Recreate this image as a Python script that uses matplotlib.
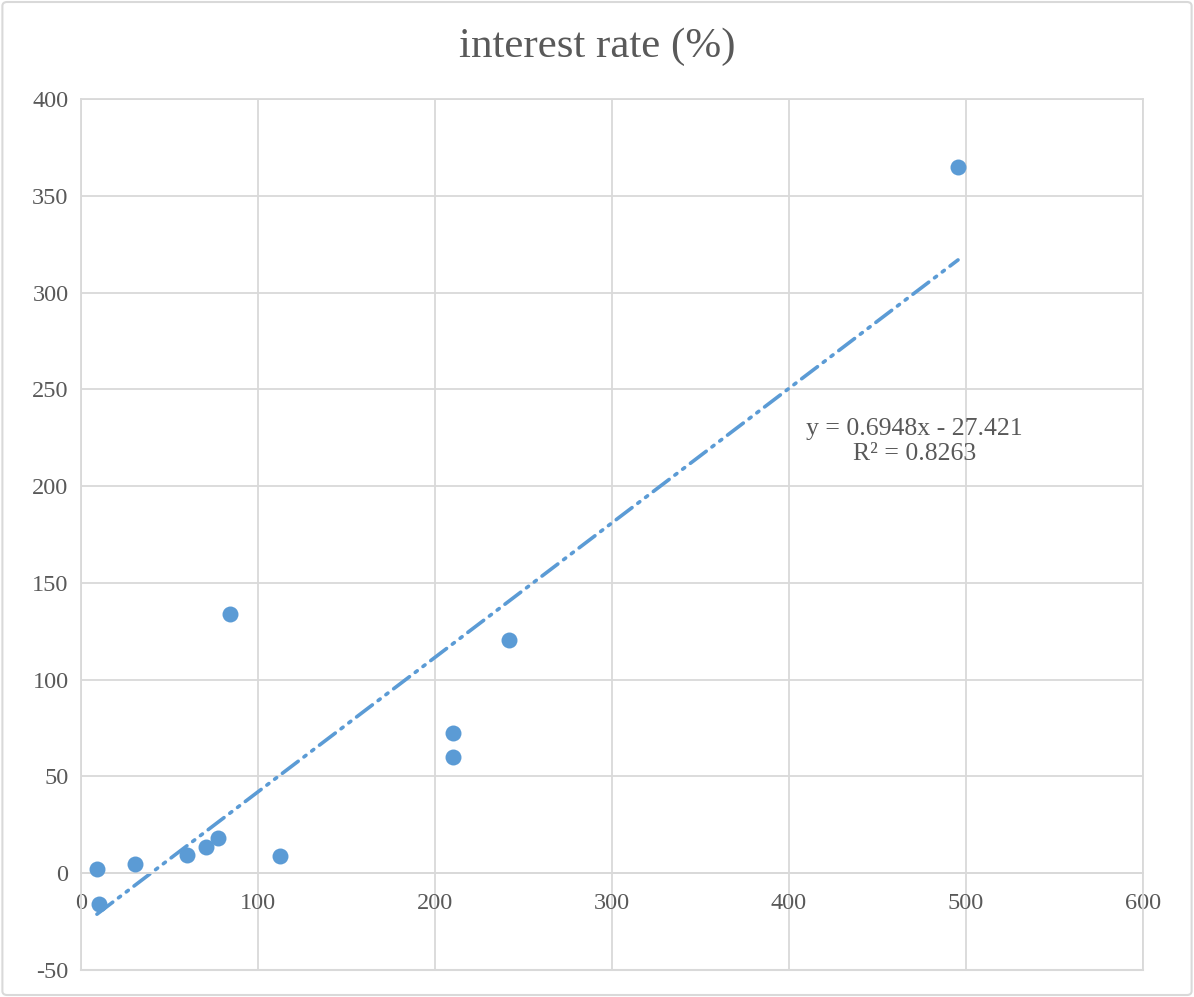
import numpy as np
import matplotlib.pyplot as plt
from matplotlib.patches import FancyBboxPatch

plt.rcParams["axes.unicode_minus"] = False

# Data
x_vals = [9, 10, 30.5, 60, 70.5, 77.5, 84, 112.5, 210, 210, 242, 495.5]
y_vals = [2, -16, 5, 9.5, 13.5, 18, 134, 9, 72.5, 60, 120.5, 365]

# Trendline as shown in the chart label
slope = 0.6948
intercept = -27.421
r_sq = 0.8263

x_ticks = [0, 100, 200, 300, 400, 500, 600]
y_ticks = [-50, 0, 50, 100, 150, 200, 250, 300, 350, 400]

blue = "#5B9BD5"
grid_col = "#D9D9D9"
text_col = "#595959"
font = "Liberation Serif"

fig = plt.figure(figsize=(11.94, 9.97), dpi=100)
ax = fig.add_axes([81 / 1194, 1 - 970 / 997, (1143 - 81) / 1194, (970 - 99) / 997])

# Border around the chart area
fig.patches.append(FancyBboxPatch((0.002, 0.002), 0.996, 0.996, boxstyle="round,pad=0,rounding_size=0.004",
                                  transform=fig.transFigure, fill=False, edgecolor=grid_col, linewidth=1.5))

ax.set_xlim(0, 600)
ax.set_ylim(-50, 400)
ax.set_xticks(x_ticks)
ax.set_yticks(y_ticks)
ax.grid(True, color=grid_col, linewidth=1.3)
ax.set_axisbelow(True)
for s in ["top", "right", "bottom", "left"]:
    ax.spines[s].set_color(grid_col)
    ax.spines[s].set_linewidth(1.3)
ax.spines["bottom"].set_position(("data", 0))
ax.tick_params(length=0, colors=text_col, labelsize=17.5)
ax.tick_params(axis="x", pad=14)
ax.tick_params(axis="y", pad=9)
for lbl in ax.get_xticklabels() + ax.get_yticklabels():
    lbl.set_fontfamily(font)
# bottom frame line of the plot area
ax.axhline(-50, color=grid_col, linewidth=1.5, clip_on=False)

ax.plot(x_vals, y_vals, "o", color=blue, markersize=11.5, markeredgewidth=0, zorder=3)

tx = np.array([min(x_vals), max(x_vals)])
ty = slope * tx + intercept
ax.plot(tx, ty, color=blue, linewidth=2.6, dashes=(5.5, 2, 0.7, 2, 0.7, 2),
        dash_capstyle="round", zorder=2)

ax.text(0.785, 0.607, "y = %.4fx - %.3f\nR² = %.4f" % (slope, -intercept, r_sq),
        transform=ax.transAxes, ha="center", va="center", fontsize=18.5,
        color=text_col, family=font, linespacing=1.2)

fig.text(0.5, 0.953, "interest rate (%)", ha="center", va="center", fontsize=31,
         color=text_col, family=font)

fig.savefig("out.png", dpi=100)
